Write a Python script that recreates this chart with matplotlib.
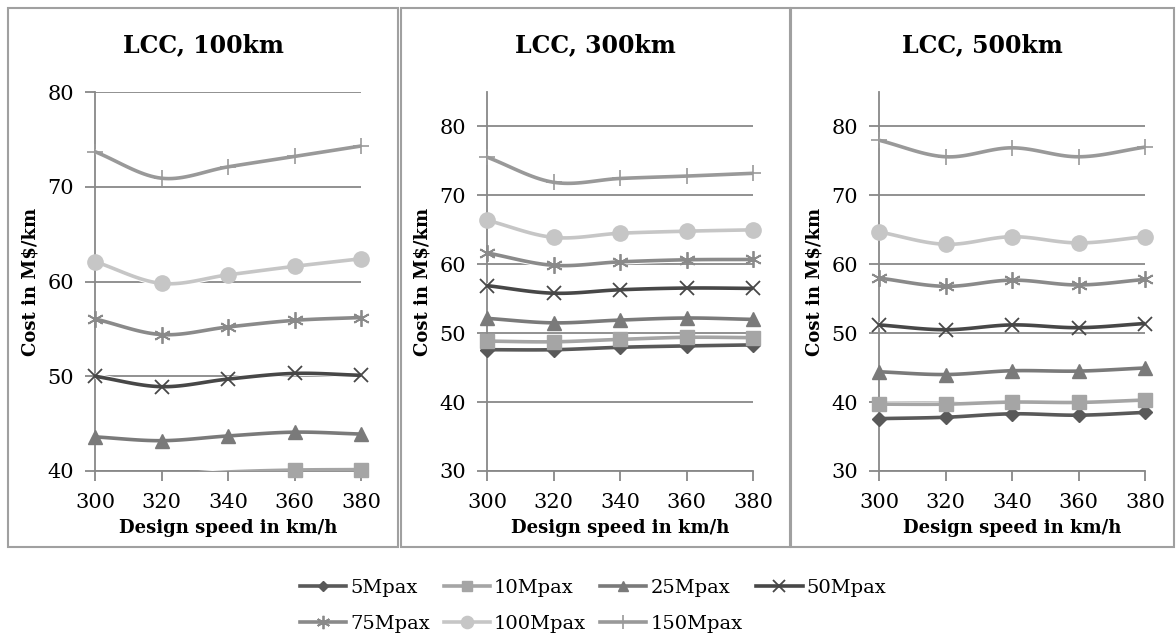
import numpy as np
import matplotlib
matplotlib.use("Agg")
import matplotlib.pyplot as plt
from matplotlib.patches import Rectangle
from matplotlib.lines import Line2D
import matplotlib.patheffects as pe

# ---------------- data ----------------
speeds = [300, 320, 340, 360, 380]
series_names = ["5Mpax", "10Mpax", "25Mpax", "50Mpax", "75Mpax", "100Mpax", "150Mpax"]
panel_titles = ["LCC, 100km", "LCC, 300km", "LCC, 500km"]

# LCC, 100km
d100_5 = [37.9, 37.7, 38.1, 38.4, 38.5]
d100_10 = [39.6, 39.5, 39.9, 40.1, 40.15]
d100_25 = [43.6, 43.2, 43.7, 44.1, 43.9]
d100_50 = [50.0, 48.9, 49.7, 50.3, 50.1]
d100_75 = [56.05, 54.4, 55.2, 55.9, 56.2]
d100_100 = [62.1, 59.8, 60.7, 61.6, 62.4]
d100_150 = [73.7, 70.9, 72.1, 73.2, 74.3]

# LCC, 300km
d300_5 = [47.6, 47.6, 47.95, 48.15, 48.3]
d300_10 = [48.85, 48.75, 49.1, 49.4, 49.35]
d300_25 = [52.15, 51.5, 51.9, 52.2, 52.0]
d300_50 = [56.9, 55.8, 56.3, 56.55, 56.5]
d300_75 = [61.65, 59.85, 60.35, 60.65, 60.7]
d300_100 = [66.4, 63.9, 64.5, 64.8, 65.0]
d300_150 = [75.55, 71.9, 72.45, 72.8, 73.2]

# LCC, 500km
d500_5 = [37.6, 37.8, 38.3, 38.1, 38.5]
d500_10 = [39.7, 39.7, 40.0, 39.95, 40.3]
d500_25 = [44.4, 44.0, 44.55, 44.5, 44.95]
d500_50 = [51.2, 50.5, 51.2, 50.8, 51.4]
d500_75 = [58.0, 56.8, 57.7, 57.0, 57.8]
d500_100 = [64.7, 62.9, 64.0, 63.1, 64.0]
d500_150 = [78.0, 75.6, 76.9, 75.6, 77.0]

panel_data = [
    [d100_5, d100_10, d100_25, d100_50, d100_75, d100_100, d100_150],
    [d300_5, d300_10, d300_25, d300_50, d300_75, d300_100, d300_150],
    [d500_5, d500_10, d500_25, d500_50, d500_75, d500_100, d500_150],
]
y_limits = [(40, 80), (30, 85), (30, 85)]
y_ticks = [[40, 50, 60, 70, 80], [30, 40, 50, 60, 70, 80], [30, 40, 50, 60, 70, 80]]
x_label = "Design speed in km/h"
y_label = "Cost in M$/km"

# ---------------- style ----------------
colors = ["#595959", "#a5a5a5", "#7a7a7a", "#474747", "#8a8a8a", "#c6c6c6", "#999999"]
markers = ["D", "s", "^", "x", (6, 2, 0), "o", "+"]
msizes = [7, 9.5, 9.5, 10, 12, 11, 12]
mews = [1, 1, 1, 1.3, 1.3, 1, 1.2]
SERIF = "DejaVu Serif"
GRID = "#888888"

W, H = 1176, 639
fig = plt.figure(figsize=(W / 100, H / 100), dpi=100)


def fx(px):
    return px / W


def fy(py):
    return 1 - py / H


def smooth(x, y, n=20):
    """Catmull-Rom style curve through the data points (like Excel smoothed lines)."""
    x = np.asarray(x, float)
    y = np.asarray(y, float)
    P = np.column_stack([x, y])
    P = np.vstack([P[0] - (P[1] - P[0]), P, P[-1] + (P[-1] - P[-2])])
    out = []
    for i in range(1, len(P) - 2):
        p0, p1, p2, p3 = P[i - 1], P[i], P[i + 1], P[i + 2]
        t = np.linspace(0, 1, n)[:, None]
        seg = 0.5 * ((2 * p1) + (-p0 + p2) * t + (2 * p0 - 5 * p1 + 4 * p2 - p3) * t ** 2
                     + (-p0 + 3 * p1 - 3 * p2 + p3) * t ** 3)
        out.append(seg if i == 1 else seg[1:])
    out = np.vstack(out)
    return out[:, 0], out[:, 1]


panel_boxes = [(8, 398), (401, 790), (791, 1174)]
axes_left = [95, 487, 879]
ax_w = 266
ax_top_px, ax_bot_px = 92, 471

for k in range(3):
    x0, x1 = panel_boxes[k]
    fig.patches.append(Rectangle((fx(x0), fy(547)), fx(x1) - fx(x0), fy(8) - fy(547),
                                 transform=fig.transFigure, fill=False,
                                 edgecolor="#a0a0a0", linewidth=1.5))
    ax = fig.add_axes([fx(axes_left[k]), fy(ax_bot_px), ax_w / W, (ax_bot_px - ax_top_px) / H])
    ax.set_facecolor("none")
    ax.set_xlim(300, 380)
    ax.set_ylim(*y_limits[k])
    ax.set_yticks(y_ticks[k])
    ax.set_xticks(speeds)
    for s in ["top", "right"]:
        ax.spines[s].set_visible(False)
    for s in ["left", "bottom"]:
        ax.spines[s].set_color(GRID)
        ax.spines[s].set_linewidth(1.3)
    ax.yaxis.grid(True, color=GRID, linewidth=1.3)
    ax.set_axisbelow(True)
    ax.tick_params(axis="both", direction="out", length=7, width=1.3, color=GRID,
                   labelsize=15)
    ax.tick_params(axis="x", pad=9)
    ax.tick_params(axis="y", pad=8)
    for lab in ax.get_xticklabels() + ax.get_yticklabels():
        lab.set_fontfamily(SERIF)
    ax.set_xlabel(x_label, fontsize=13, fontweight="bold", family=SERIF, labelpad=5)
    ax.set_ylabel(y_label, fontsize=13, fontweight="bold", family=SERIF, labelpad=6)

    ymin = y_limits[k][0]
    for i, name in enumerate(series_names):
        vals = panel_data[k][i]
        sx, sy = smooth(speeds, vals)
        ax.plot(sx, sy, color=colors[i], linewidth=2.6, solid_capstyle="round", zorder=3 + i * 0.1,
                path_effects=[pe.Stroke(linewidth=4.0, foreground="white"), pe.Normal()])
        vis = [(s, v) for s, v in zip(speeds, vals) if v >= ymin]
        if vis:
            vx, vy = zip(*vis)
            ax.plot(vx, vy, linestyle="none", marker=markers[i], markersize=msizes[i],
                    color=colors[i], markeredgecolor=colors[i], markeredgewidth=mews[i],
                    clip_on=False, zorder=3.05 + i * 0.1)
    fig.text(fx((x0 + x1) / 2), fy(45), panel_titles[k], ha="center", va="center",
             fontsize=17, fontweight="bold", family=SERIF)

handles = {}
for i, name in enumerate(series_names):
    handles[name] = Line2D([], [], color=colors[i], linewidth=2.6, marker=markers[i],
                           markersize=msizes[i] * 0.8, markeredgewidth=mews[i],
                           markeredgecolor=colors[i], label=name)
# legend is filled column by column: arrange so rows read 5,10,25,50 / 75,100,150
legend_order = ["5Mpax", "75Mpax", "10Mpax", "100Mpax", "25Mpax", "150Mpax", "50Mpax"]
fig.legend(handles=[handles[n] for n in legend_order], loc="center",
           bbox_to_anchor=(fx(593), fy(606)), ncol=4,
           frameon=False, prop={"family": SERIF, "size": 14}, handlelength=2.4,
           handletextpad=0.2, columnspacing=0.7, labelspacing=0.95, borderpad=0)

fig.savefig("out.png", dpi=100)
